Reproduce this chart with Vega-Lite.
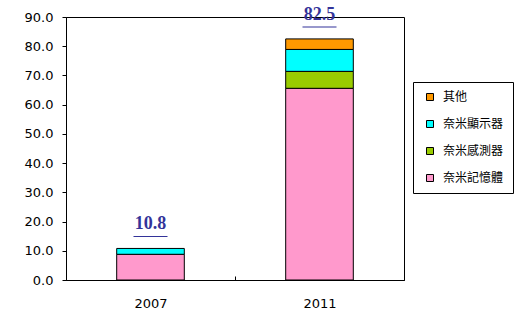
{
  "$schema": "https://vega.github.io/schema/vega-lite/v6.json",
  "autosize": "none",
  "width": 338,
  "height": 263,
  "padding": {"left": 66, "top": 17, "right": 121, "bottom": 40},
  "background": "white",
  "config": {
    "view": {"stroke": "black", "strokeWidth": 1},
    "font": "DejaVu Sans",
    "axisY": {
      "title": null, "grid": false, "labelFontSize": 13, "labelColor": "black",
      "domainColor": "black", "tickColor": "black", "tickSize": 4, "labelPadding": 9,
      "format": ".1f", "labelOverlap": false
    }
  },
  "data": {
    "values": [
      {"year": "2007", "category": "奈米記憶體", "value": 8.8},
      {"year": "2007", "category": "奈米顯示器", "value": 2.0},
      {"year": "2011", "category": "奈米記憶體", "value": 65.6},
      {"year": "2011", "category": "奈米感測器", "value": 5.8},
      {"year": "2011", "category": "奈米顯示器", "value": 7.5},
      {"year": "2011", "category": "其他", "value": 3.6}
    ]
  },
  "transform": [
    {"calculate": "indexof(['奈米記憶體','奈米感測器','奈米顯示器','其他'], datum.category)", "as": "stackOrder"}
  ],
  "encoding": {
    "x": {
      "field": "year", "type": "nominal",
      "scale": {"paddingInner": 0, "paddingOuter": 0},
      "axis": {
        "title": null, "labelAngle": 0, "labelFontSize": 13, "labelColor": "black",
        "domainColor": "black", "tickColor": "black", "tickBand": "extent",
        "tickSize": -4, "labelPadding": 21
      }
    }
  },
  "layer": [
    {
      "mark": {"type": "bar", "width": {"band": 0.4}, "stroke": "black", "strokeWidth": 1},
      "encoding": {
        "y": {
          "field": "value", "type": "quantitative", "stack": "zero",
          "scale": {"domain": [0, 90]},
          "axis": {"title": null, "tickCount": 10, "values": [0,10,20,30,40,50,60,70,80,90]}
        },
        "color": {
          "field": "category", "type": "nominal",
          "scale": {
            "domain": ["其他", "奈米顯示器", "奈米感測器", "奈米記憶體"],
            "range": ["#FF9900", "#00FFFF", "#99CC00", "#FF99CC"]
          },
          "legend": {
            "title": null, "orient": "none", "legendX": 347, "legendY": 65,
            "strokeColor": "black", "fillColor": "white", "padding": 9,
            "symbolType": "square", "symbolSize": 49, "symbolStrokeColor": "black",
            "symbolStrokeWidth": 1, "symbolOpacity": 1,
            "labelFont": "Noto Sans CJK TC", "labelFontSize": 12, "labelColor": "black",
            "rowPadding": 15, "labelOffset": 7, "symbolOffset": 2
          }
        },
        "order": {"field": "stackOrder", "type": "quantitative"}
      }
    },
    {
      "mark": {"type": "text", "font": "Liberation Serif", "fontWeight": "bold", "fontSize": 18, "color": "#333399", "baseline": "alphabetic"},
      "encoding": {
        "y": {"aggregate": "sum", "field": "value", "type": "quantitative", "axis": {"title": null, "tickCount": 10, "values": [0,10,20,30,40,50,60,70,80,90]}},
        "text": {"aggregate": "sum", "field": "value", "type": "quantitative", "format": ".1f"},
        "yOffset": {"condition": {"test": "datum.year == '2011'", "value": -8}, "value": -19}
      }
    },
    {
      "mark": {"type": "tick", "color": "#333399", "thickness": 1, "size": 34},
      "encoding": {
        "y": {"aggregate": "sum", "field": "value", "type": "quantitative", "axis": {"title": null, "tickCount": 10, "values": [0,10,20,30,40,50,60,70,80,90]}},
        "yOffset": {"condition": {"test": "datum.year == '2011'", "value": -3}, "value": -12}
      }
    }
  ]
}
